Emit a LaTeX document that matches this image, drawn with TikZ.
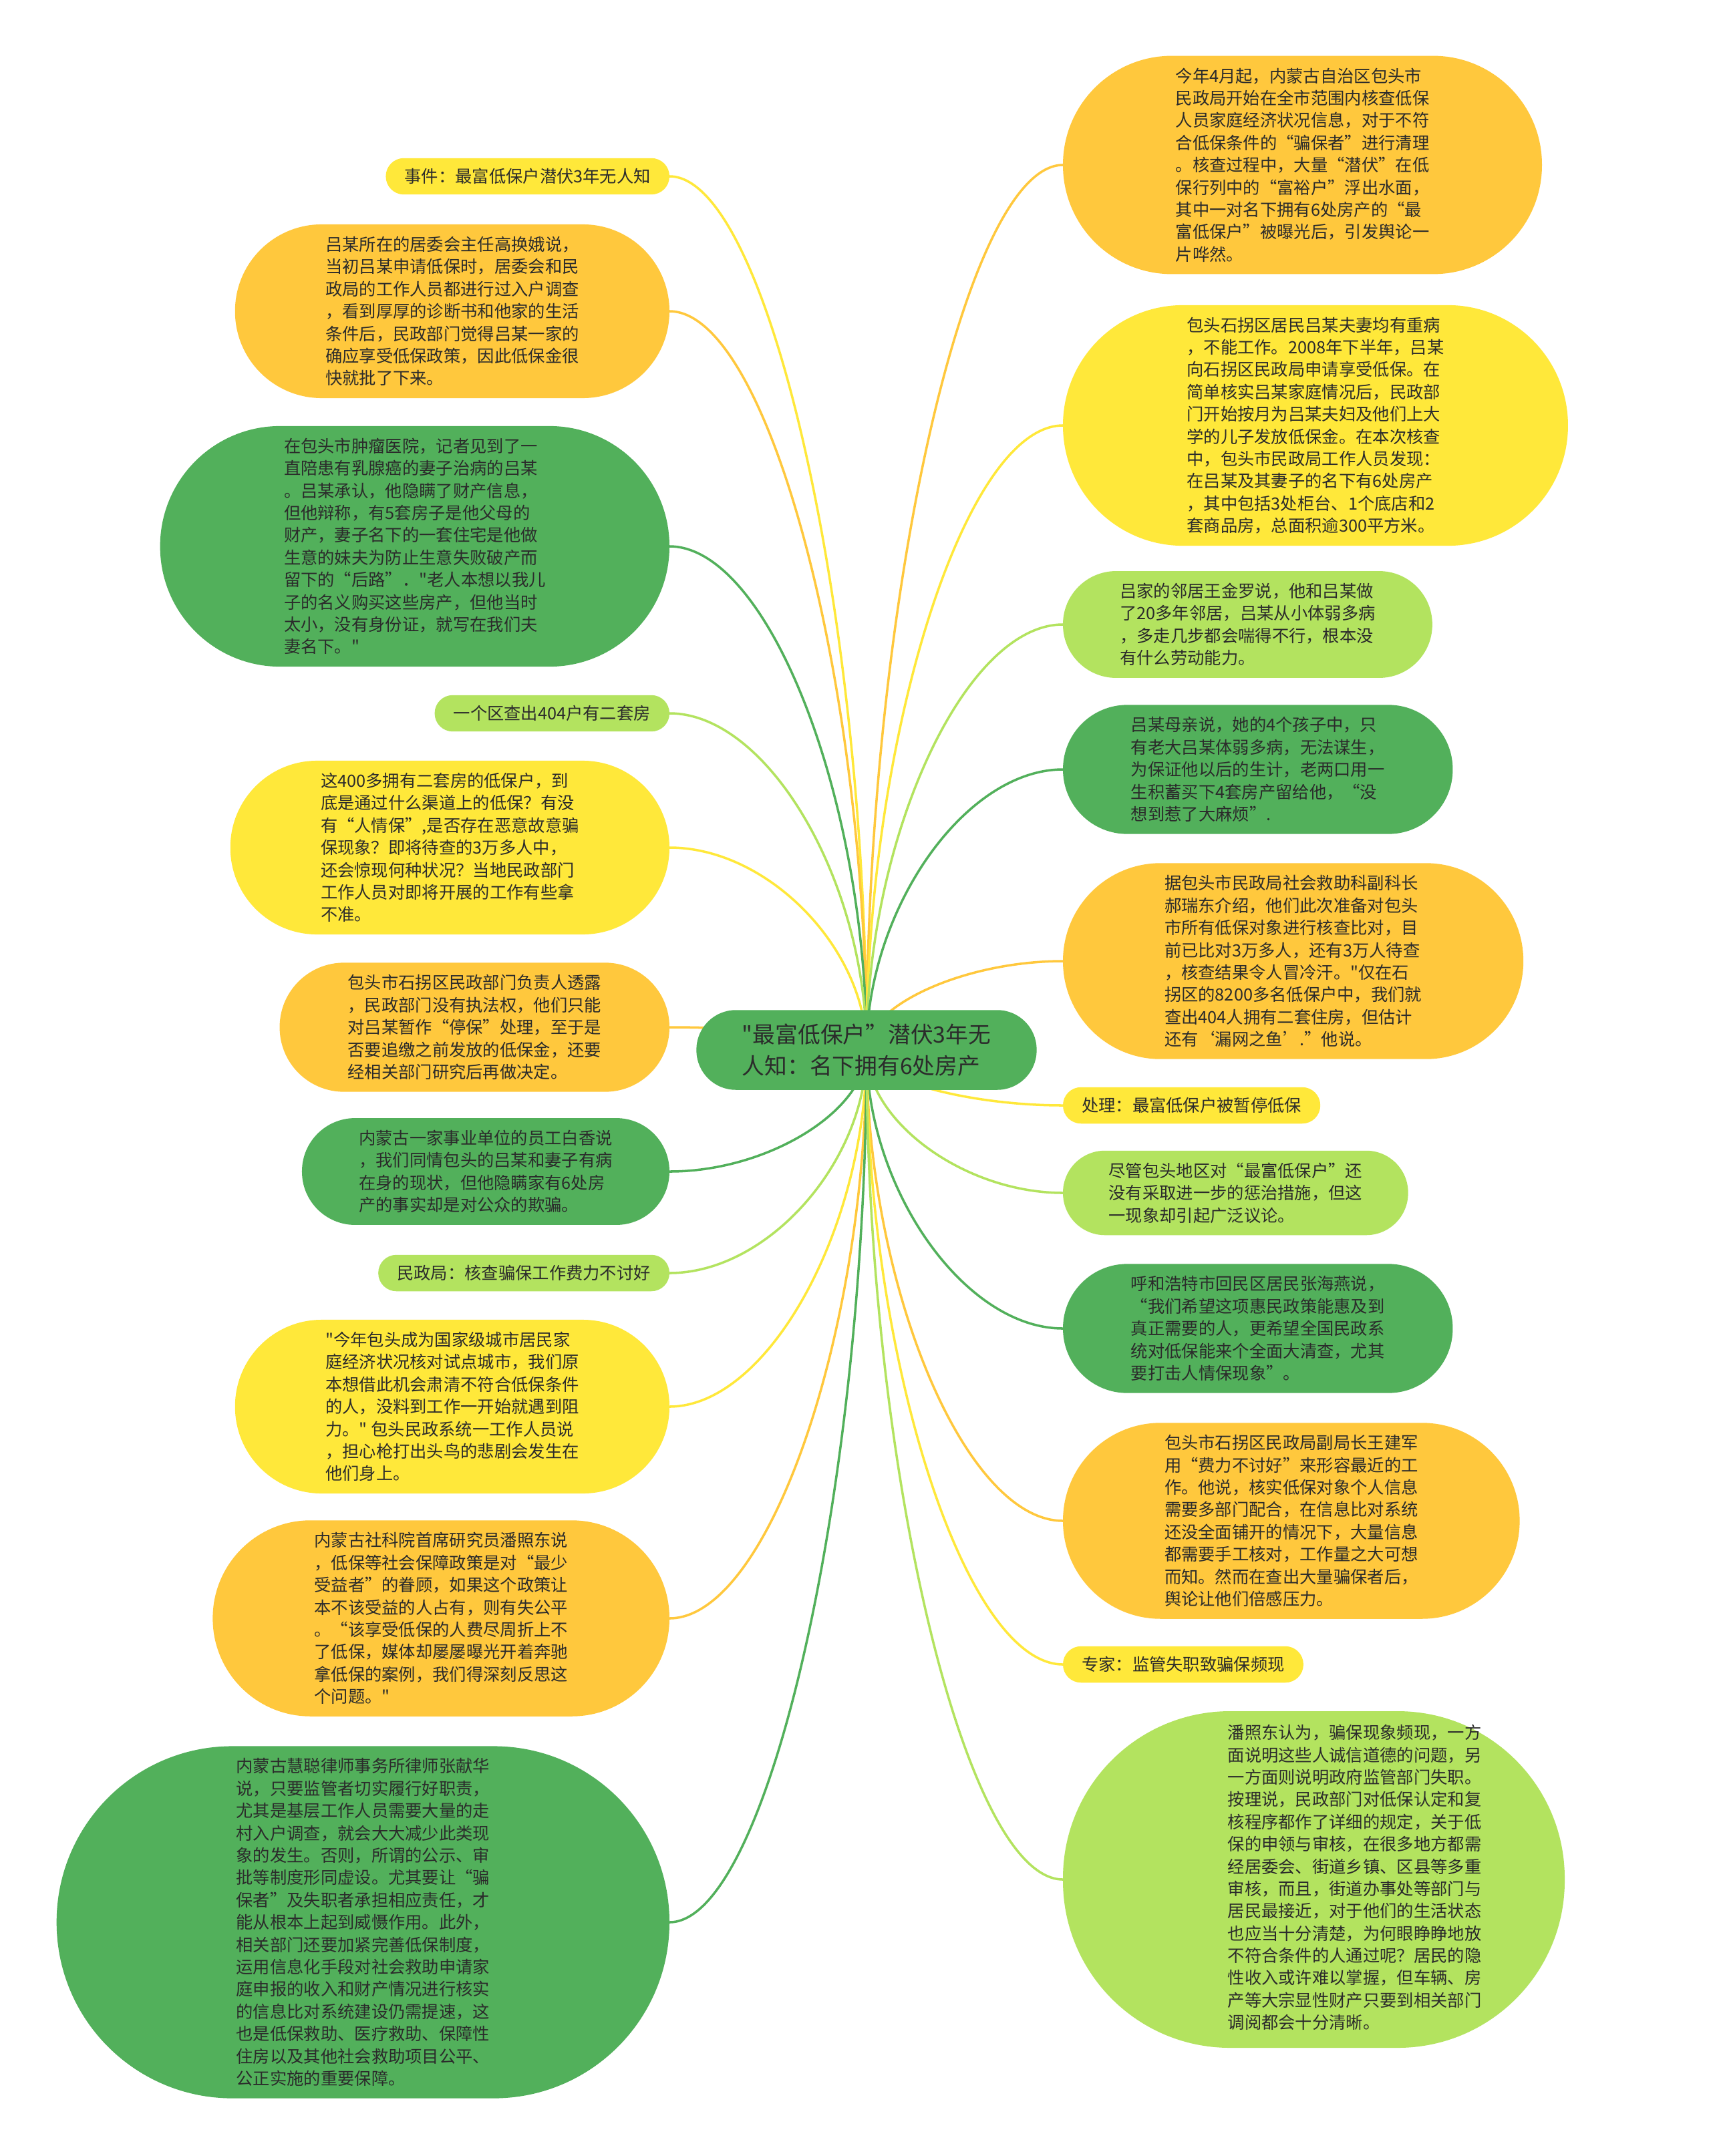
\documentclass[tikz,border=0pt]{standalone}
\usepackage{fontspec}
\newfontfamily\cjk{Noto Sans CJK SC}
\usetikzlibrary{calc, backgrounds}

\definecolor{ylw}{HTML}{FFE83A}
\definecolor{org}{HTML}{FFC83D}
\definecolor{grn}{HTML}{52B05B}
\definecolor{lgrn}{HTML}{B3E35F}
\definecolor{txt}{HTML}{2B2B2B}

\begin{document}
\begin{tikzpicture}[
  font=\cjk\fontsize{7.2}{9.5}\selectfont,
  tile/.style 2 args={rectangle, fill=#1, text=txt, align=left, outer sep=0pt,
               inner ysep=0pt, minimum height={(#2-1)*9.5pt+17pt},
               rounded corners={(#2-1)*4.75pt+8.4pt}, inner xsep={(#2-1)*4.75pt+10pt}},
  tag/.style={rectangle, fill=#1, text=txt, outer sep=0pt, inner ysep=0pt,
              minimum height=15.5pt, rounded corners=7.7pt, inner xsep=8pt},
  lnk/.style={draw=#1, line width=1pt, to path={
    .. controls ($(\tikztostart)!.5!(\tikztostart |- \tikztotarget)$)
    and ($(\tikztotarget)!.5!(\tikztostart |- \tikztotarget)$) .. (\tikztotarget)}}
]
  \useasboundingbox (0,0) rectangle (25.6,-32.28);

  % root
  \node[tile={grn}{2}, font=\cjk\fontsize{9.6}{13.4}\selectfont, minimum height=34pt,
        rounded corners=16.8pt, inner xsep=19.5pt]
    (root) at (12.97,-15.72) {"最富低保户”潜伏3年无\\人知：名下拥有6处房产};

  % left side
  \node[tag=ylw, anchor=east] (l1) at (10.02,-2.64) {事件：最富低保户潜伏3年无人知};
  \node[tile={org}{7}, anchor=east] (l2) at (10.02,-4.66)
    {吕某所在的居委会主任高换娥说，\\当初吕某申请低保时，居委会和民\\政局的工作人员都进行过入户调查\\，看到厚厚的诊断书和他家的生活\\条件后，民政部门觉得吕某一家的\\确应享受低保政策，因此低保金很\\快就批了下来。};
  \node[tile={grn}{10}, anchor=east] (l3) at (10.02,-8.18)
    {在包头市肿瘤医院，记者见到了一\\直陪患有乳腺癌的妻子治病的吕某\\。吕某承认，他隐瞒了财产信息，\\但他辩称，有5套房子是他父母的\\财产，妻子名下的一套住宅是他做\\生意的妹夫为防止生意失败破产而\\留下的“后路”．"老人本想以我儿\\子的名义购买这些房产，但他当时\\太小，没有身份证，就写在我们夫\\妻名下。"};
  \node[tag=lgrn, anchor=east] (l4) at (10.02,-10.68) {一个区查出404户有二套房};
  \node[tile={ylw}{7}, anchor=east] (l5) at (10.02,-12.69)
    {这400多拥有二套房的低保户，到\\底是通过什么渠道上的低保？有没\\有“人情保”,是否存在恶意故意骗\\保现象？即将待查的3万多人中，\\还会惊现何种状况？当地民政部门\\工作人员对即将开展的工作有些拿\\不准。};
  \node[tile={org}{5}, anchor=east] (l6) at (10.02,-15.38)
    {包头市石拐区民政部门负责人透露\\，民政部门没有执法权，他们只能\\对吕某暂作“停保”处理，至于是\\否要追缴之前发放的低保金，还要\\经相关部门研究后再做决定。};
  \node[tile={grn}{4}, anchor=east] (l7) at (10.02,-17.54)
    {内蒙古一家事业单位的员工白香说\\，我们同情包头的吕某和妻子有病\\在身的现状，但他隐瞒家有6处房\\产的事实却是对公众的欺骗。};
  \node[tag=lgrn, anchor=east] (l8) at (10.02,-19.06) {民政局：核查骗保工作费力不讨好};
  \node[tile={ylw}{7}, anchor=east] (l9) at (10.02,-21.06)
    {"今年包头成为国家级城市居民家\\庭经济状况核对试点城市，我们原\\本想借此机会肃清不符合低保条件\\的人，没料到工作一开始就遇到阻\\力。" 包头民政系统一工作人员说\\，担心枪打出头鸟的悲剧会发生在\\他们身上。};
  \node[tile={org}{8}, anchor=east] (l10) at (10.02,-24.23)
    {内蒙古社科院首席研究员潘照东说\\，低保等社会保障政策是对“最少\\受益者”的眷顾，如果这个政策让\\本不该受益的人占有，则有失公平\\。“该享受低保的人费尽周折上不\\了低保，媒体却屡屡曝光开着奔驰\\拿低保的案例，我们得深刻反思这\\个问题。"};
  \node[tile={grn}{15}, anchor=east] (l11) at (10.02,-28.78)
    {内蒙古慧聪律师事务所律师张献华\\说，只要监管者切实履行好职责，\\尤其是基层工作人员需要大量的走\\村入户调查，就会大大减少此类现\\象的发生。否则，所谓的公示、审\\批等制度形同虚设。尤其要让“骗\\保者”及失职者承担相应责任，才\\能从根本上起到威慑作用。此外，\\相关部门还要加紧完善低保制度，\\运用信息化手段对社会救助申请家\\庭申报的收入和财产情况进行核实\\的信息比对系统建设仍需提速，这\\也是低保救助、医疗救助、保障性\\住房以及其他社会救助项目公平、\\公正实施的重要保障。};

  % right side
  \node[tile={org}{9}, anchor=west] (r1) at (15.91,-2.47)
    {今年4月起，内蒙古自治区包头市\\民政局开始在全市范围内核查低保\\人员家庭经济状况信息，对于不符\\合低保条件的“骗保者”进行清理\\。核查过程中，大量“潜伏”在低\\保行列中的“富裕户”浮出水面，\\其中一对名下拥有6处房产的“最\\富低保户”被曝光后，引发舆论一\\片哗然。};
  \node[tile={ylw}{10}, anchor=west] (r2) at (15.91,-6.37)
    {包头石拐区居民吕某夫妻均有重病\\，不能工作。2008年下半年，吕某\\向石拐区民政局申请享受低保。在\\简单核实吕某家庭情况后，民政部\\门开始按月为吕某夫妇及他们上大\\学的儿子发放低保金。在本次核查\\中，包头市民政局工作人员发现：\\在吕某及其妻子的名下有6处房产\\，其中包括3处柜台、1个底店和2\\套商品房，总面积逾300平方米。};
  \node[tile={lgrn}{4}, anchor=west] (r3) at (15.91,-9.35)
    {吕家的邻居王金罗说，他和吕某做\\了20多年邻居，吕某从小体弱多病\\，多走几步都会喘得不行，根本没\\有什么劳动能力。};
  \node[tile={grn}{5}, anchor=west] (r4) at (15.91,-11.52)
    {吕某母亲说，她的4个孩子中，只\\有老大吕某体弱多病，无法谋生，\\为保证他以后的生计，老两口用一\\生积蓄买下4套房产留给他，“没\\想到惹了大麻烦”.};
  \node[tile={org}{8}, anchor=west] (r5) at (15.91,-14.39)
    {据包头市民政局社会救助科副科长\\郝瑞东介绍，他们此次准备对包头\\市所有低保对象进行核查比对，目\\前已比对3万多人，还有3万人待查\\，核查结果令人冒冷汗。"仅在石\\拐区的8200多名低保户中，我们就\\查出404人拥有二套住房，但估计\\还有‘漏网之鱼’.”他说。};
  \node[tag=ylw, anchor=west] (r6) at (15.91,-16.55) {处理：最富低保户被暂停低保};
  \node[tile={lgrn}{3}, anchor=west] (r7) at (15.91,-17.86)
    {尽管包头地区对“最富低保户”还\\没有采取进一步的惩治措施，但这\\一现象却引起广泛议论。};
  \node[tile={grn}{5}, anchor=west] (r8) at (15.91,-19.89)
    {呼和浩特市回民区居民张海燕说，\\“我们希望这项惠民政策能惠及到\\真正需要的人，更希望全国民政系\\统对低保能来个全面大清查，尤其\\要打击人情保现象”。};
  \node[tile={org}{8}, anchor=west] (r9) at (15.91,-22.77)
    {包头市石拐区民政局副局长王建军\\用“费力不讨好”来形容最近的工\\作。他说，核实低保对象个人信息\\需要多部门配合，在信息比对系统\\还没全面铺开的情况下，大量信息\\都需要手工核对，工作量之大可想\\而知。然而在查出大量骗保者后，\\舆论让他们倍感压力。};
  \node[tag=ylw, anchor=west] (r10) at (15.91,-24.92) {专家：监管失职致骗保频现};
  \node[rectangle, rounded corners=2.5cm, fill=lgrn, text=txt, minimum width=7.51cm,
        minimum height=5.04cm, inner sep=0pt, outer sep=0pt, anchor=west] (r11) at (15.91,-28.14)
    {\hspace*{1.22cm}\begin{tabular}{@{}l@{}}
     潘照东认为，骗保现象频现，一方\\面说明这些人诚信道德的问题，另\\一方面则说明政府监管部门失职。\\按理说，民政部门对低保认定和复\\核程序都作了详细的规定，关于低\\保的申领与审核，在很多地方都需\\经居委会、街道乡镇、区县等多重\\审核，而且，街道办事处等部门与\\居民最接近，对于他们的生活状态\\也应当十分清楚，为何眼睁睁地放\\不符合条件的人通过呢？居民的隐\\性收入或许难以掌握，但车辆、房\\产等大宗显性财产只要到相关部门\\调阅都会十分清晰。
     \end{tabular}};

  % branches
  \begin{scope}[on background layer]
    \fill[white] (0,0) rectangle (25.6,-32.28);
    \draw[lnk=ylw] (root.center) to (l1.east);
    \draw[lnk=org] (root.center) to (l2.east);
    \draw[lnk=grn] (root.center) to (l3.east);
    \draw[lnk=lgrn] (root.center) to (l4.east);
    \draw[lnk=ylw] (root.center) to (l5.east);
    \draw[lnk=org] (root.center) to (l6.east);
    \draw[lnk=grn] (root.center) to (l7.east);
    \draw[lnk=lgrn] (root.center) to (l8.east);
    \draw[lnk=ylw] (root.center) to (l9.east);
    \draw[lnk=org] (root.center) to (l10.east);
    \draw[lnk=grn] (root.center) to (l11.east);
    \draw[lnk=org] (root.center) to (r1.west);
    \draw[lnk=ylw] (root.center) to (r2.west);
    \draw[lnk=lgrn] (root.center) to (r3.west);
    \draw[lnk=grn] (root.center) to (r4.west);
    \draw[lnk=org] (root.center) to (r5.west);
    \draw[lnk=ylw] (root.center) to (r6.west);
    \draw[lnk=lgrn] (root.center) to (r7.west);
    \draw[lnk=grn] (root.center) to (r8.west);
    \draw[lnk=org] (root.center) to (r9.west);
    \draw[lnk=ylw] (root.center) to (r10.west);
    \draw[lnk=lgrn] (root.center) to (r11.west);
  \end{scope}
\end{tikzpicture}
\end{document}
